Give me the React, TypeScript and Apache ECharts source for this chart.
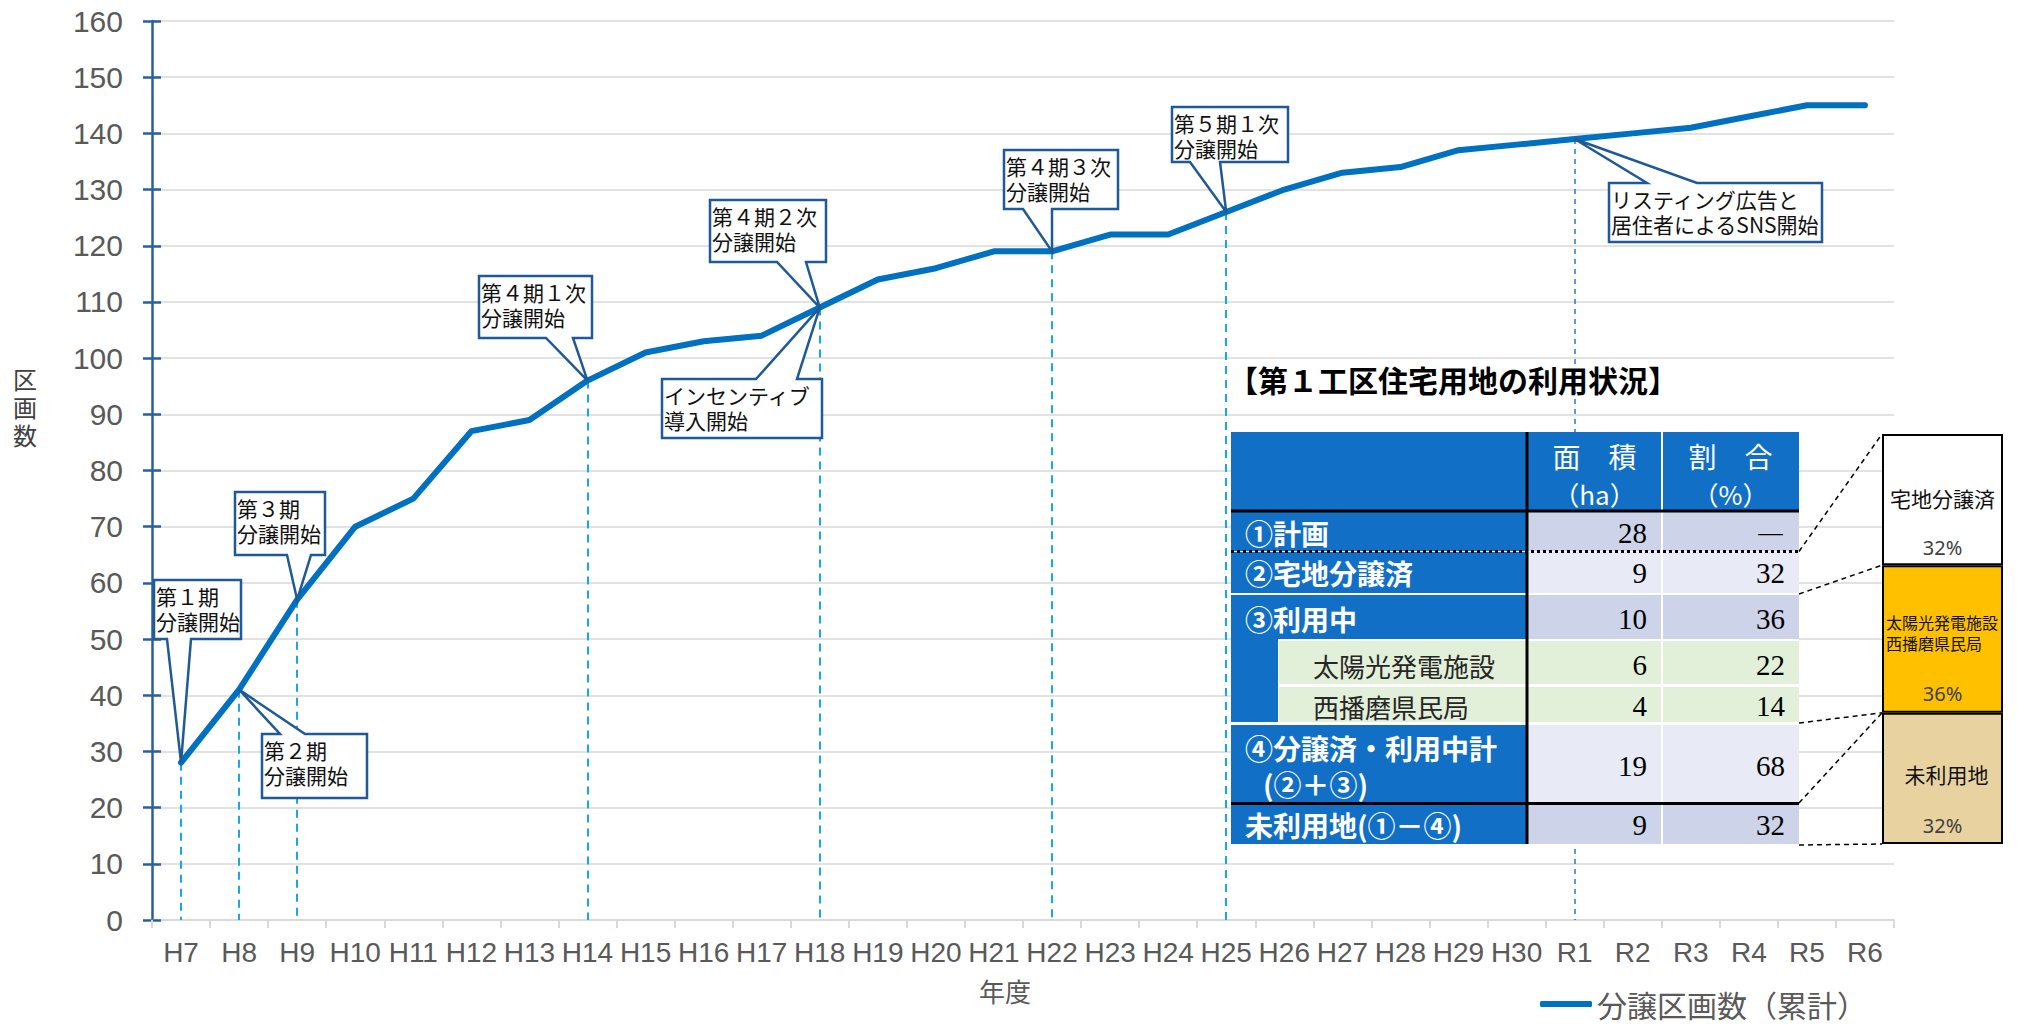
import React, { useEffect, useRef } from 'react';
import * as echarts from 'echarts';

// ---------- data ----------
const categories = [
  'H7', 'H8', 'H9', 'H10', 'H11', 'H12', 'H13', 'H14', 'H15', 'H16', 'H17', 'H18',
  'H19', 'H20', 'H21', 'H22', 'H23', 'H24', 'H25', 'H26', 'H27', 'H28', 'H29', 'H30',
  'R1', 'R2', 'R3', 'R4', 'R5', 'R6',
];
const cumulativeLots = [
  28, 41, 57, 70, 75, 87, 89, 96, 101, 103, 104, 109,
  114, 116, 119, 119, 122, 122, 126, 130, 133, 134, 137, 138,
  139, 140, 141, 143, 145, 145,
];
const yMin = 0;
const yMax = 160;
const yStep = 10;
const seriesName = '分譲区画数（累計）';
const yAxisTitleChars = ['区', '画', '数'];
const xAxisTitle = '年度';

const calloutCats = ['H7', 'H8', 'H9', 'H14', 'H18', 'H18', 'H22', 'H25', 'R1'];
const calloutTexts = [
  ['第１期', '分譲開始'],
  ['第２期', '分譲開始'],
  ['第３期', '分譲開始'],
  ['第４期１次', '分譲開始'],
  ['第４期２次', '分譲開始'],
  ['インセンティブ', '導入開始'],
  ['第４期３次', '分譲開始'],
  ['第５期１次', '分譲開始'],
  ['リスティング広告と', '居住者によるSNS開始'],
];
const markerCats = ['H7', 'H8', 'H9', 'H14', 'H18', 'H22', 'H25', 'R1'];

const tableTitle = '【第１工区住宅用地の利用状況】';
const tableHeaders = [
  ['面　積', '（ha）'],
  ['割　合', '（%）'],
];
const tableLabels = [
  ['①計画'],
  ['②宅地分譲済'],
  ['③利用中'],
  ['太陽光発電施設'],
  ['西播磨県民局'],
  ['④分譲済・利用中計', '(②＋③)'],
  ['未利用地(①－④)'],
];
const tableArea = [28, 9, 10, 6, 4, 19, 9];
const tableShare: (number | null)[] = [null, 32, 36, 22, 14, 68, 32];

const usageNames = [['宅地分譲済'], ['太陽光発電施設', '西播磨県民局'], ['未利用地']];
const usageShare = [32, 36, 32];

// ---------- layout / style ----------
const BLUE_LINE = '#0070C0';
const AXIS_BLUE = '#2A5F9E';
const GRID_GRAY = '#D9D9D9';
const LABEL_GRAY = '#595959';
const CALLOUT_BORDER = '#1F5A96';
const TABLE_BLUE = '#1170C6';
const CJK = '"Noto Sans CJK JP", "Noto Sans", sans-serif';
const SANS = '"Liberation Sans", Arial, sans-serif';
const SERIF = '"Liberation Serif", "DejaVu Serif", serif';

const calloutLayout = [
  { box: [154, 580, 241, 639], base: [167, 191], side: 'bottom' },
  { box: [262, 734, 367, 798], base: [280, 305], side: 'top' },
  { box: [235, 492, 325, 555], base: [287, 311], side: 'bottom' },
  { box: [479, 276, 592, 338], base: [546, 573], side: 'bottom' },
  { box: [710, 200, 826, 262], base: [777, 806], side: 'bottom' },
  { box: [662, 379, 822, 438], base: [756, 797], side: 'top' },
  { box: [1004, 150, 1118, 209], base: [1023, 1052], side: 'bottom' },
  { box: [1172, 107, 1288, 162], base: [1190, 1220], side: 'bottom' },
  { box: [1609, 183, 1822, 242], base: [1647, 1697], side: 'top' },
];

const rowLayout = [
  { y0: 511, y1: 551, bg: '#CDD4EA', ty: 533 },
  { y0: 552, y1: 593, bg: '#E8EBF5', ty: 573 },
  { y0: 595, y1: 639, bg: '#CDD4EA', ty: 619 },
  { y0: 641, y1: 684, bg: '#E2F0D9', ty: 665, sub: true },
  { y0: 687, y1: 722, bg: '#E2F0D9', ty: 706, sub: true },
  { y0: 725, y1: 803, bg: '#E8EBF5', ty: 766, ty1: 748, ty2: 784 },
  { y0: 804, y1: 844, bg: '#CDD4EA', ty: 825 },
];
const usageColors = ['#FFFFFF', '#FFC000', '#E8D3A0'];
const usageNameOffsets = [64, 57, 61];
const usagePctOffsets = [113, 128, 113];

export default function App() {
  const ref = useRef<HTMLDivElement>(null);

  useEffect(() => {
    const el = ref.current!;
    const chart = echarts.init(el, null, { renderer: 'svg' });

    const markData = markerCats.map((c) => {
      const i = categories.indexOf(c);
      const isR = c.startsWith('R');
      return [
        {
          coord: [i, cumulativeLots[i]],
          lineStyle: isR
            ? { color: '#2F78C8', width: 1.5, type: [5, 5] }
            : { color: '#1AA7E8', width: 2, type: [8, 6] },
        },
        { coord: [i, 0] },
      ];
    });

    const option: any = {
      animation: false,
      backgroundColor: '#ffffff',
      grid: [
        { left: 152, right: 123, top: 21, bottom: 104, containLabel: false },
        { left: 1882, right: 14, top: 434, bottom: 180, containLabel: false },
      ],
      legend: {
        data: [seriesName],
        left: 1535,
        top: 984,
        icon: 'roundRect',
        itemWidth: 52,
        itemHeight: 6,
        itemGap: 5,
        textStyle: { fontSize: 30, color: LABEL_GRAY, fontFamily: CJK },
      },
      xAxis: [
        {
          type: 'category',
          gridIndex: 0,
          data: categories,
          boundaryGap: true,
          axisLine: { show: true, lineStyle: { color: GRID_GRAY, width: 2 } },
          axisTick: { show: true, length: 8, alignWithLabel: false, lineStyle: { color: GRID_GRAY, width: 2 } },
          axisLabel: { interval: 0, margin: 18, fontSize: 28, color: LABEL_GRAY, fontFamily: SANS },
          splitLine: { show: false },
        },
        {
          type: 'category',
          gridIndex: 1,
          data: ['利用状況'],
          show: false,
        },
      ],
      yAxis: [
        {
          type: 'value',
          gridIndex: 0,
          min: yMin,
          max: yMax,
          interval: yStep,
          position: 'left',
          axisLine: { show: true, lineStyle: { color: AXIS_BLUE, width: 2.5 } },
          axisTick: { show: true, length: 9, lineStyle: { color: AXIS_BLUE, width: 2.5 } },
          axisLabel: { margin: 29, fontSize: 30, color: LABEL_GRAY, fontFamily: SANS },
          splitLine: { show: true, lineStyle: { color: GRID_GRAY, width: 1.5 } },
        },
        {
          type: 'value',
          gridIndex: 0,
          min: yMin,
          max: yMax,
          interval: yStep,
          position: 'left',
          axisLine: { show: false },
          axisTick: { show: true, inside: true, length: 9, lineStyle: { color: AXIS_BLUE, width: 2.5 } },
          axisLabel: { show: false },
          splitLine: { show: false },
        },
        {
          type: 'value',
          gridIndex: 1,
          min: 0,
          max: 100,
          inverse: true,
          show: false,
        },
      ],
      series: [
        {
          type: 'line',
          name: seriesName,
          xAxisIndex: 0,
          yAxisIndex: 0,
          data: cumulativeLots,
          symbol: 'none',
          showSymbol: false,
          lineStyle: { color: BLUE_LINE, width: 6, cap: 'round', join: 'round' },
          itemStyle: { color: BLUE_LINE },
          z: 5,
          markLine: {
            silent: true,
            symbol: ['none', 'none'],
            label: { show: false },
            data: markData,
          },
        },
        ...usageShare.map((v, i) => ({
          type: 'bar',
          name: usageNames[i].join(''),
          stack: 'usage',
          xAxisIndex: 1,
          yAxisIndex: 2,
          data: [v],
          barWidth: '100%',
          silent: true,
          itemStyle: { color: usageColors[i], borderColor: '#000', borderWidth: 2 },
          z: 40,
        })),
      ],
    };

    chart.setOption(option);

    const g: any[] = [];

    // axis titles
    yAxisTitleChars.forEach((ch, ci) => {
      g.push({
        type: 'text',
        z: 50,
        style: {
          text: ch,
          x: 25,
          y: 378 + ci * 28,
          fill: '#404040',
          fontSize: 24,
          fontFamily: CJK,
          textAlign: 'center',
          textVerticalAlign: 'middle',
        },
      });
    });
    g.push({
      type: 'text',
      z: 50,
      style: {
        text: xAxisTitle,
        x: 1005,
        y: 990,
        fill: LABEL_GRAY,
        fontSize: 26,
        fontFamily: CJK,
        textAlign: 'center',
        textVerticalAlign: 'middle',
      },
    });

    // callouts
    calloutCats.forEach((c, k) => {
      const i = categories.indexOf(c);
      const tip = chart.convertToPixel({ xAxisIndex: 0, yAxisIndex: 0 }, [i, cumulativeLots[i]]) as number[];
      const lay = calloutLayout[k];
      const [L, T, R, B] = lay.box;
      const [p1, p2] = lay.base;
      const pts =
        lay.side === 'bottom'
          ? [[L, T], [R, T], [R, B], [p2, B], [tip[0], tip[1]], [p1, B], [L, B]]
          : [[L, T], [p1, T], [tip[0], tip[1]], [p2, T], [R, T], [R, B], [L, B]];
      g.push({
        type: 'polygon',
        z: 60,
        shape: { points: pts },
        style: { fill: '#ffffff', stroke: CALLOUT_BORDER, lineWidth: 2.5 },
      });
      calloutTexts[k].forEach((t, li) => {
        g.push({
          type: 'text',
          z: 61,
          style: {
            text: t,
            x: L + 2,
            y: T + 16 + li * 25,
            fill: '#111111',
            fontSize: 21,
            fontFamily: CJK,
            textAlign: 'left',
            textVerticalAlign: 'middle',
          },
        });
      });
    });

    // ---- table ----
    const TL = 1231, C1 = 1527, C2 = 1662, TR = 1799, HT = 432, HB = 511, TB = 844;
    g.push({ type: 'text', z: 70, style: { text: tableTitle, x: 1228, y: 379, fill: '#000', fontSize: 30, fontWeight: 'bold', fontFamily: CJK, textAlign: 'left', textVerticalAlign: 'middle' } });
    g.push({ type: 'rect', z: 70, shape: { x: TL, y: HT, width: TR - TL, height: TB - HT }, style: { fill: '#ffffff' } });
    g.push({ type: 'rect', z: 71, shape: { x: TL, y: HT, width: TR - TL, height: HB - HT }, style: { fill: TABLE_BLUE } });
    g.push({ type: 'rect', z: 72, shape: { x: C2 - 1, y: HT, width: 2, height: HB - HT }, style: { fill: '#ffffff' } });
    tableHeaders.forEach((h, j) => {
      const cx = j === 0 ? (C1 + C2) / 2 : (C2 + TR) / 2;
      g.push({ type: 'text', z: 73, style: { text: h[0], x: cx, y: 456, fill: '#fff', fontSize: 28, fontFamily: CJK, textAlign: 'center', textVerticalAlign: 'middle' } });
      g.push({ type: 'text', z: 73, style: { text: h[1], x: cx, y: 493, fill: '#fff', fontSize: 26, fontFamily: CJK, textAlign: 'center', textVerticalAlign: 'middle' } });
    });
    g.push({ type: 'rect', z: 71, shape: { x: TL, y: 595, width: 47, height: 722 - 595 }, style: { fill: TABLE_BLUE } });
    rowLayout.forEach((r: any, i) => {
      const h = r.y1 - r.y0;
      if (r.sub) {
        g.push({ type: 'rect', z: 71, shape: { x: 1279, y: r.y0, width: C1 - 1279, height: h }, style: { fill: r.bg } });
      } else {
        g.push({ type: 'rect', z: 71, shape: { x: TL, y: r.y0, width: C1 - TL, height: h }, style: { fill: TABLE_BLUE } });
      }
      g.push({ type: 'rect', z: 71, shape: { x: C1, y: r.y0, width: C2 - 1 - C1, height: h }, style: { fill: r.bg } });
      g.push({ type: 'rect', z: 71, shape: { x: C2 + 1, y: r.y0, width: TR - C2 - 1, height: h }, style: { fill: r.bg } });
      const lab = tableLabels[i];
      if (r.sub) {
        g.push({ type: 'text', z: 73, style: { text: lab[0], x: 1313, y: r.ty, fill: '#262626', fontSize: 26, fontFamily: CJK, textAlign: 'left', textVerticalAlign: 'middle' } });
      } else if (lab.length === 2) {
        g.push({ type: 'text', z: 73, style: { text: lab[0], x: 1245, y: r.ty1, fill: '#fff', fontSize: 28, fontWeight: 'bold', fontFamily: CJK, textAlign: 'left', textVerticalAlign: 'middle' } });
        g.push({ type: 'text', z: 73, style: { text: lab[1], x: 1263, y: r.ty2, fill: '#fff', fontSize: 28, fontWeight: 'bold', fontFamily: CJK, textAlign: 'left', textVerticalAlign: 'middle' } });
      } else {
        g.push({ type: 'text', z: 73, style: { text: lab[0], x: 1245, y: r.ty, fill: '#fff', fontSize: 28, fontWeight: 'bold', fontFamily: CJK, textAlign: 'left', textVerticalAlign: 'middle' } });
      }
      g.push({ type: 'text', z: 73, style: { text: String(tableArea[i]), x: 1647, y: r.ty, fill: '#000', fontSize: 29, fontFamily: SERIF, textAlign: 'right', textVerticalAlign: 'middle' } });
      const s = tableShare[i];
      g.push({ type: 'text', z: 73, style: { text: s === null ? '―' : String(s), x: 1785, y: r.ty, fill: '#000', fontSize: 29, fontFamily: s === null ? CJK : SERIF, textAlign: 'right', textVerticalAlign: 'middle' } });
    });
    g.push({ type: 'line', z: 74, shape: { x1: C1, y1: HT, x2: C1, y2: TB }, style: { stroke: '#000', lineWidth: 3 } });
    g.push({ type: 'line', z: 74, shape: { x1: TL, y1: HB, x2: TR, y2: HB }, style: { stroke: '#000', lineWidth: 3 } });
    g.push({ type: 'line', z: 74, shape: { x1: TL, y1: 551.5, x2: TR, y2: 551.5 }, style: { stroke: '#000', lineWidth: 3, lineDash: [3, 3] } });
    g.push({ type: 'line', z: 74, shape: { x1: TL, y1: 803.5, x2: TR, y2: 803.5 }, style: { stroke: '#000', lineWidth: 3 } });

    // ---- stacked bar labels and connectors ----
    let cum = 0;
    const bounds: number[] = [];
    usageShare.forEach((v, i) => {
      const top = chart.convertToPixel({ xAxisIndex: 1, yAxisIndex: 2 }, [0, cum]) as number[];
      bounds.push(top[1]);
      cum += v;
      const cx = top[0];
      const names = usageNames[i];
      if (names.length === 2) {
        names.forEach((n, ni) => {
          g.push({ type: 'text', z: 80, style: { text: n, x: 1886, y: top[1] + usageNameOffsets[i] + ni * 21, fill: '#111', fontSize: 16, fontFamily: CJK, textAlign: 'left', textVerticalAlign: 'middle' } });
        });
      } else {
        g.push({ type: 'text', z: 80, style: { text: names[0], x: cx + (i === 2 ? 4 : 0), y: top[1] + usageNameOffsets[i], fill: '#111', fontSize: 21, fontFamily: CJK, textAlign: 'center', textVerticalAlign: 'middle' } });
      }
      g.push({ type: 'text', z: 80, style: { text: v + '%', x: cx, y: top[1] + usagePctOffsets[i], fill: '#404040', fontSize: 20, fontFamily: '"Noto Sans", sans-serif', textAlign: 'center', textVerticalAlign: 'middle' } });
    });
    const endPx = chart.convertToPixel({ xAxisIndex: 1, yAxisIndex: 2 }, [0, cum]) as number[];
    bounds.push(endPx[1]);
    const BX = 1882;
    const dash = { stroke: '#000', lineWidth: 1.5, lineDash: [5, 4] };
    g.push({ type: 'line', z: 75, shape: { x1: TR, y1: 551.5, x2: BX, y2: bounds[0] }, style: dash });
    g.push({ type: 'line', z: 75, shape: { x1: TR, y1: 594, x2: BX, y2: bounds[1] }, style: dash });
    g.push({ type: 'line', z: 75, shape: { x1: TR, y1: 723, x2: BX, y2: bounds[2] }, style: dash });
    g.push({ type: 'line', z: 75, shape: { x1: TR, y1: 803, x2: BX, y2: bounds[2] }, style: dash });
    g.push({ type: 'line', z: 75, shape: { x1: TR, y1: 845, x2: BX, y2: bounds[3] }, style: dash });

    chart.setOption({ graphic: { elements: g } });

    return () => {
      chart.dispose();
    };
  }, []);

  return (
    <div
      ref={ref}
      style={{ position: 'absolute', left: 0, top: 0, width: 2017, height: 1024, background: '#fff' }}
    />
  );
}
